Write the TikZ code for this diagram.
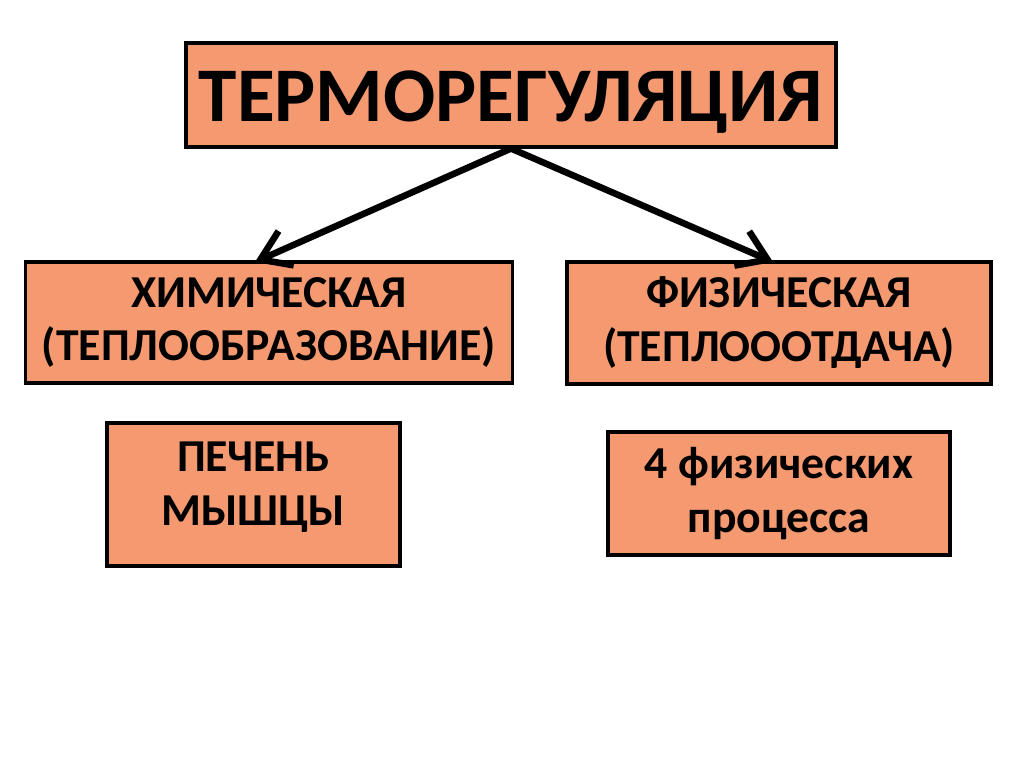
\documentclass[tikz,border=0pt]{standalone}
\usepackage{fontspec}
\setmainfont{Carlito}
\usetikzlibrary{arrows.meta,positioning}
\definecolor{boxsalmon}{RGB}{244,153,112}

\tikzset{
  box/.style={draw=black,line width=2.6pt,fill=boxsalmon,align=center,
    font=\bfseries\fontsize{39}{46}\selectfont,inner sep=0pt},
  boxtext/.style={align=center,font=\bfseries\fontsize{39}{46}\selectfont,inner sep=0pt},
  arr/.style={line width=5.6pt,-{Straight Barb[length=24pt,width=32pt]}}
}

\begin{document}
\begin{tikzpicture}[x=0.03cm,y=-0.03cm]
    % page
    \useasboundingbox[fill=white] (0,0) rectangle (1024,767);

    % top box
    \node[box,minimum width=19.5cm,minimum height=3.12cm,text height=50pt,text depth=5pt,
      font=\bfseries\fontsize{66}{80}\selectfont] (thermo) at (511,95) {ТЕРМОРЕГУЛЯЦИЯ};

    % second row
    \node[box,minimum width=14.61cm,minimum height=3.63cm] (chem) at (269,322.5)
      {ХИМИЧЕСКАЯ\\(ТЕПЛООБРАЗОВАНИЕ)};
    \node[box,minimum width=12.72cm,minimum height=3.66cm] (phys) at (779,323)
      {ФИЗИЧЕСКАЯ\\(ТЕПЛОООТДАЧА)};

    % third row
    \node[box,minimum width=8.79cm,minimum height=4.29cm] (liver) at (253.5,494.5) {};
    \node[boxtext] (livertext) at ([yshift=0.21cm]liver.center) {ПЕЧЕНЬ\\МЫШЦЫ};
    \node[box,minimum width=10.26cm,minimum height=3.69cm] (proc) at (779,493.5)
      {4 физических\\процесса};

    % arrow tips sit a bit left of the box centres
    \coordinate (chemtip) at (255,262);
    \coordinate (phystip) at (773,262);
    \draw[arr] (thermo.south) -- (chemtip);
    \draw[arr] (thermo.south) -- (phystip);
  \end{tikzpicture}
\end{document}
